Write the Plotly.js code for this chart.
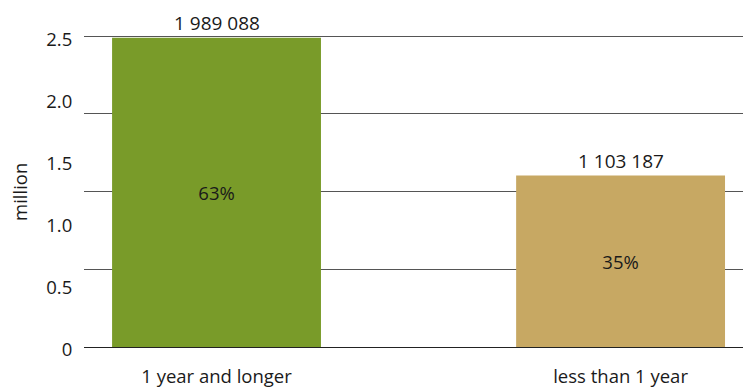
<!DOCTYPE html>
<html>
<head>
<meta charset="utf-8">
<script src="https://cdn.plot.ly/plotly-3.0.1.min.js"></script>
<style>
  html, body { margin: 0; padding: 0; background: #fff; }
  #chart { width: 743px; height: 389px; }
</style>
</head>
<body>
<div id="chart"></div>
<script>
// Duration categories and absolute counts
const categories = ['1 year and longer', 'less than 1 year'];
const counts = [1989088, 1103187];
const shares = ['63%', '35%'];
const barColors = ['#799B29', '#C7A863'];

// Horizontal rules every half million
const gridValues = [0, 500000, 1000000, 1500000, 2000000];

// Labels printed along the value axis ("million")
const tickLabels = ['0', '0.5', '1.0', '1.5', '2.0', '2.5'];
const tickNumbers = [0, 0.5, 1.0, 1.5, 2.0, 2.5];
const axisScale = 0.8e6; // count per printed axis unit

const fontFamily = '"Open Sans", Roboto, sans-serif';
const textColor = '#1a1a1a';
const fontSize = 18.5;

// Space-separated thousands, e.g. 1 989 088
function groupThousands(n) {
  return String(n).replace(/\B(?=(\d{3})+(?!\d))/g, ' ');
}

// A little headroom so the top rule stays inside the plot area
const yTop = gridValues[gridValues.length - 1] * 1.01;

const bars = {
  type: 'bar',
  x: categories,
  y: counts,
  width: 0.517,
  marker: { color: barColors },
  text: shares,
  textposition: 'inside',
  insidetextanchor: 'middle',
  textfont: { family: fontFamily, size: fontSize, color: textColor },
  hoverinfo: 'skip'
};

// Invisible carrier so the labelled axis is drawn
const labelCarrier = {
  type: 'scatter',
  mode: 'markers',
  x: [categories[0]],
  y: [0],
  yaxis: 'y2',
  marker: { opacity: 0 },
  hoverinfo: 'skip',
  showlegend: false
};

const valueLabels = categories.map((c, i) => ({
  x: c,
  y: counts[i],
  xref: 'x',
  yref: 'y',
  text: groupThousands(counts[i]),
  showarrow: false,
  yanchor: 'bottom',
  yshift: 0,
  font: { family: fontFamily, size: 19, color: textColor }
}));

const unitLabel = {
  text: 'million',
  xref: 'paper',
  yref: 'paper',
  x: -0.097,
  y: 0.494,
  xanchor: 'center',
  yanchor: 'middle',
  textangle: -90,
  showarrow: false,
  font: { family: fontFamily, size: 18.5, color: textColor }
};

const layout = {
  width: 743,
  height: 389,
  margin: { l: 84, r: 0, t: 33, b: 42, pad: 0 },
  paper_bgcolor: '#fff',
  plot_bgcolor: 'rgba(0,0,0,0)',
  showlegend: false,
  font: { family: fontFamily, size: fontSize, color: textColor },
  xaxis: {
    range: [-0.328, 1.303],
    showgrid: false,
    zeroline: false,
    showline: false,
    ticks: 'outside',
    ticklen: 13,
    tickcolor: 'rgba(0,0,0,0)',
    tickfont: { family: fontFamily, size: fontSize, color: textColor },
    automargin: false,
    fixedrange: true
  },
  yaxis: {
    range: [0, yTop],
    tickmode: 'array',
    tickvals: gridValues,
    showticklabels: false,
    showgrid: true,
    gridcolor: '#555',
    gridwidth: 1,
    zeroline: true,
    zerolinecolor: '#222',
    zerolinewidth: 1,
    showline: false,
    ticks: '',
    automargin: false,
    fixedrange: true
  },
  yaxis2: {
    overlaying: 'y',
    side: 'left',
    anchor: 'x',
    range: [0, yTop],
    tickmode: 'array',
    tickvals: tickNumbers.map(t => t * axisScale),
    ticktext: tickLabels,
    showgrid: false,
    zeroline: false,
    showline: false,
    ticks: 'outside',
    ticklen: 7,
    tickcolor: 'rgba(0,0,0,0)',
    ticklabelshift: 3,
    tickfont: { family: fontFamily, size: fontSize, color: textColor },
    automargin: false,
    fixedrange: true
  },
  annotations: valueLabels.concat([unitLabel])
};

Plotly.newPlot('chart', [bars, labelCarrier], layout, { displayModeBar: false, staticPlot: true });
</script>
</body>
</html>
